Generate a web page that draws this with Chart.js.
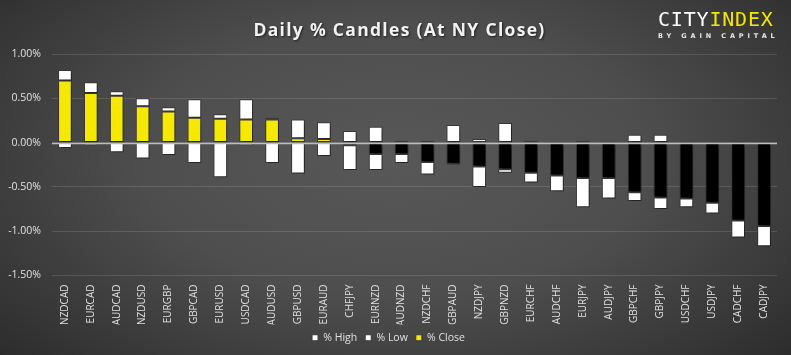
<!DOCTYPE html>
<html>
<head>
<meta charset="utf-8">
<script src="https://cdn.jsdelivr.net/npm/chart.js@4/dist/chart.umd.min.js"></script>
<style>
  html, body { margin: 0; padding: 0; }
  body {
    width: 791px; height: 355px; overflow: hidden; position: relative;
    background: radial-gradient(ellipse 70% 85% at 50% 45%, #585858 0%, #4e4e4e 45%, #3b3b3b 75%, #2a2a2a 100%);
  }
  #wrap { position: absolute; left: 0; top: 0; width: 791px; height: 355px; }
  #title {
    position: absolute; left: 4px; width: 791px; top: 17px; text-align: center;
    font-family: "Open Sans", sans-serif; font-weight: bold; font-size: 17.5px;
    letter-spacing: 1.3px; color: #f2f2f2; text-shadow: 1px 1px 2px rgba(0,0,0,0.6);
  }
  #logo { position: absolute; left: 658px; top: 8px; }
  #logo .main { font-family: "DejaVu Sans Mono", monospace; font-size: 20px; letter-spacing: 0.8px; line-height: 22px; }
  #logo .city { color: #ffffff; }
  #logo .index { color: #f5e600; }
  #logo .sub { font-family: "DejaVu Sans", sans-serif; font-weight: bold; font-size: 6.5px; letter-spacing: 3.9px; color: #e8e8e8; margin-top: 2px; }
</style>
</head>
<body>
<div id="wrap"><canvas id="c" width="791" height="355"></canvas></div>
<div id="title">Daily % Candles (At NY Close)</div>
<div id="logo"><div class="main"><span class="city">CITY</span><span class="index">INDEX</span></div><div class="sub">BY GAIN CAPITAL</div></div>
<script>
const categories = ["NZDCAD","EURCAD","AUDCAD","NZDUSD","EURGBP","GBPCAD","EURUSD","USDCAD","AUDUSD","GBPUSD","EURAUD","CHFJPY","EURNZD","AUDNZD","NZDCHF","GBPAUD","NZDJPY","GBPNZD","EURCHF","AUDCHF","EURJPY","AUDJPY","GBPCHF","GBPJPY","USDCHF","USDJPY","CADCHF","CADJPY"];
const highs  = [0.82,0.68,0.58,0.50,0.40,0.49,0.32,0.49,0.28,0.26,0.23,0.13,0.18,0.02,0.02,0.20,0.04,0.22,0.02,0.00,0.02,0.01,0.09,0.09,0.01,0.01,0.01,0.01];
const closes = [0.70,0.56,0.53,0.41,0.35,0.28,0.27,0.26,0.26,0.05,0.04,-0.03,-0.13,-0.13,-0.22,-0.24,-0.27,-0.30,-0.34,-0.37,-0.40,-0.40,-0.56,-0.62,-0.63,-0.68,-0.88,-0.94];
const lows   = [-0.06,-0.03,-0.11,-0.18,-0.14,-0.23,-0.39,-0.03,-0.23,-0.35,-0.15,-0.31,-0.31,-0.23,-0.36,-0.25,-0.50,-0.34,-0.45,-0.55,-0.73,-0.63,-0.66,-0.75,-0.73,-0.80,-1.07,-1.17];
const yTicks = [-1.5, -1.0, -0.5, 0.0, 0.5, 1.0];

const highRanges  = highs.map((h, i) => [Math.max(0, closes[i]), h]);
const lowRanges   = lows.map((l, i) => [Math.min(0, closes[i]), l]);
const closeRanges = closes.map(c => [0, c]);
const closeColors = closes.map(c => c >= 0 ? '#f5e900' : '#000000');

const shadowPlugin = {
  id: 'shadow',
  beforeDatasetsDraw(chart) {
    const ctx = chart.ctx;
    ctx.save();
    ctx.shadowColor = 'rgba(0,0,0,0.55)';
    ctx.shadowBlur = 4;
    ctx.shadowOffsetX = 2;
    ctx.shadowOffsetY = 2;
  },
  afterDatasetsDraw(chart) {
    chart.ctx.restore();
    // zero axis line drawn over the bars
    const ctx = chart.ctx, y = Math.round(chart.scales.y.getPixelForValue(0)) + 0.5;
    ctx.save();
    ctx.strokeStyle = '#bdbdbd';
    ctx.lineWidth = 1.5;
    ctx.beginPath();
    ctx.moveTo(chart.chartArea.left, y);
    ctx.lineTo(chart.chartArea.right, y);
    ctx.stroke();
    ctx.restore();
  }
};

const common = { grouped: false, categoryPercentage: 1, barPercentage: 0.53, borderWidth: 1, borderColor: '#3a3a3a', borderSkipped: false };

new Chart(document.getElementById('c'), {
  type: 'bar',
  data: {
    labels: categories,
    datasets: [
      Object.assign({ label: '% High', data: highRanges, backgroundColor: '#ffffff', order: 2 }, common),
      Object.assign({ label: '% Low', data: lowRanges, backgroundColor: '#ffffff', order: 2 }, common),
      Object.assign({ label: '% Close', data: closeRanges, backgroundColor: closeColors, order: 1 }, common)
    ]
  },
  options: {
    responsive: false,
    animation: false,
    layout: { padding: { top: 54, right: 14, bottom: 2, left: 0 } },
    plugins: {
      tooltip: { enabled: false },
      title: { display: false },
      legend: {
        position: 'bottom',
        labels: {
          color: '#e0e0e0', boxWidth: 6, boxHeight: 6, padding: 8,
          font: { family: '"Open Sans", sans-serif', size: 10.5 },
          generateLabels(chart) {
            return chart.data.datasets.map((ds, i) => ({
              text: ds.label, fillStyle: i === 2 ? '#f5e900' : '#ffffff',
              strokeStyle: '#3a3a3a', lineWidth: 1, fontColor: '#e0e0e0', datasetIndex: i, hidden: false
            }));
          }
        }
      }
    },
    scales: {
      x: {
        grid: { display: false, drawTicks: false },
        border: { display: false },
        ticks: {
          color: '#e0e0e0', minRotation: 90, maxRotation: 90, autoSkip: false, padding: 9,
          font: { family: '"Open Sans", sans-serif', size: 10 }
        },
        afterFit(scale) { scale.height = 49; }
      },
      y: {
        min: -1.5, max: 1.0,
        afterBuildTicks(scale) { scale.ticks = yTicks.map(v => ({ value: v })); },
        grid: {
          drawTicks: false,
          color: 'rgba(255,255,255,0.13)',
          lineWidth: 1
        },
        border: { display: false },
        ticks: {
          color: '#e0e0e0', padding: 11,
          font: { family: '"Open Sans", sans-serif', size: 10.5 },
          callback: v => v.toFixed(2) + '%'
        },
        afterFit(scale) { scale.width = 52; }
      }
    }
  },
  plugins: [shadowPlugin]
});
</script>
</body>
</html>
